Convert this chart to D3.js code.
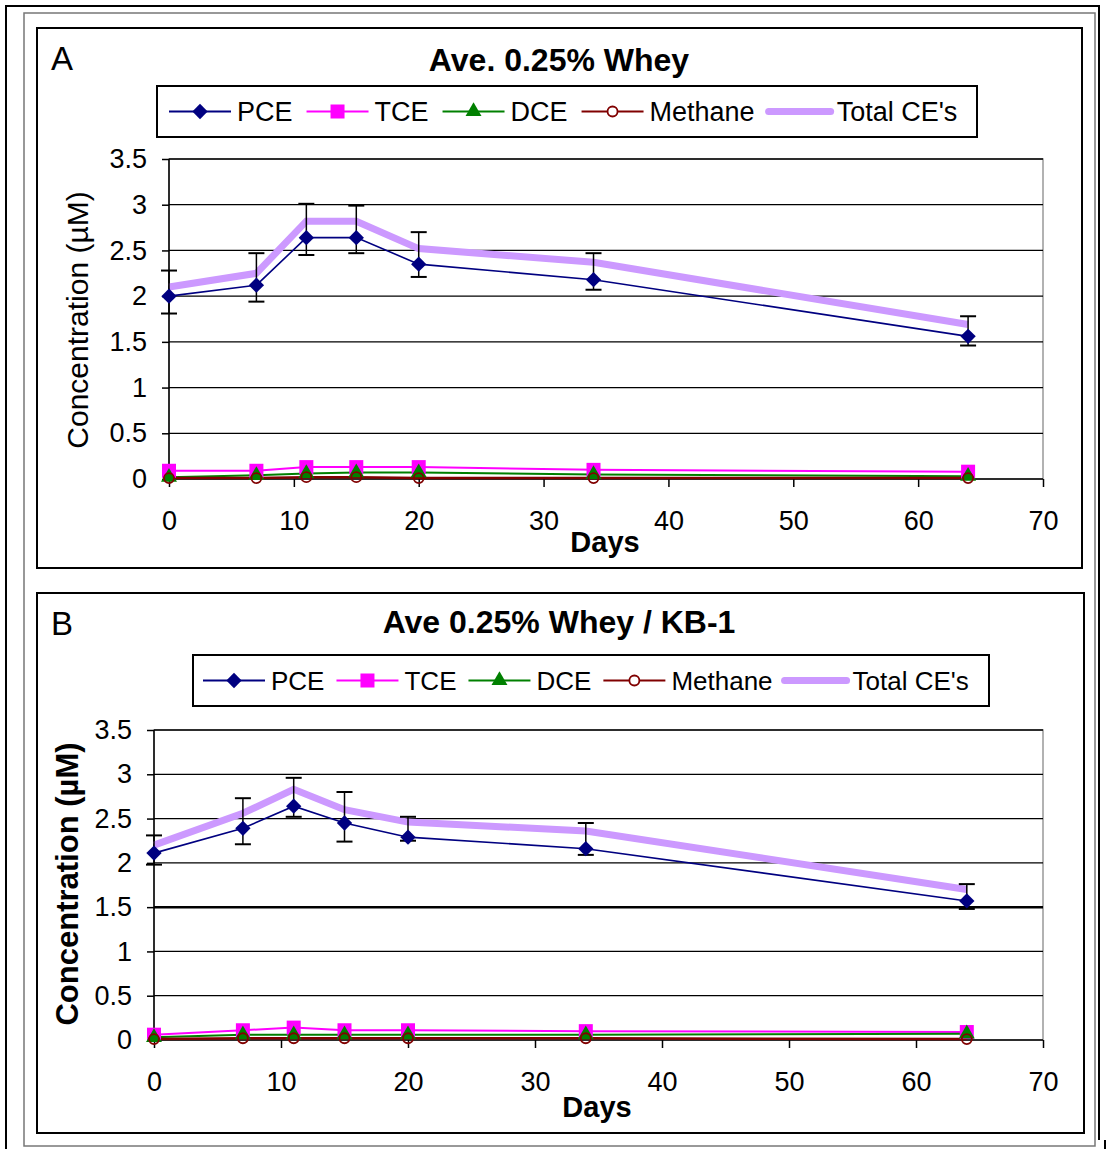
<!DOCTYPE html>
<html><head><meta charset="utf-8">
<script src="https://cdn.jsdelivr.net/npm/d3@7"></script>
<style>body{margin:0;background:#fff}svg{display:block;font-family:"Liberation Sans",Arial,sans-serif}</style>
</head><body>
<svg id="c" width="1106" height="1149"></svg>
<script>
const days = [0, 7, 11, 15, 20, 34, 64];
const xTicks = [0, 10, 20, 30, 40, 50, 60, 70];
const yTicks = [0, 0.5, 1, 1.5, 2, 2.5, 3, 3.5];
const yTickLabels = ["0", "0.5", "1", "1.5", "2", "2.5", "3", "3.5"];
const seriesNames = ["PCE", "TCE", "DCE", "Methane", "Total CE's"];

// Panel A
const titleA = "Ave. 0.25% Whey";
const pceA = [2.00, 2.12, 2.64, 2.64, 2.35, 2.18, 1.56];
const pceHiA = [2.28, 2.47, 3.01, 2.99, 2.70, 2.47, 1.78];
const pceLoA = [1.81, 1.94, 2.45, 2.47, 2.21, 2.07, 1.46];
const tceA = [0.09, 0.09, 0.13, 0.13, 0.13, 0.10, 0.08];
const dceA = [0.02, 0.04, 0.06, 0.07, 0.07, 0.05, 0.03];
const methA = [0.01, 0.01, 0.02, 0.02, 0.01, 0.01, 0.01];
const totalA = [2.10, 2.25, 2.82, 2.82, 2.52, 2.37, 1.69];

// Panel B
const titleB = "Ave 0.25% Whey / KB-1";
const pceB = [2.11, 2.39, 2.64, 2.45, 2.29, 2.16, 1.57];
const pceHiB = [2.31, 2.73, 2.96, 2.80, 2.52, 2.45, 1.76];
const pceLoB = [1.98, 2.21, 2.52, 2.24, 2.25, 2.09, 1.48];
const tceB = [0.06, 0.11, 0.14, 0.11, 0.11, 0.10, 0.09];
const dceB = [0.03, 0.06, 0.06, 0.06, 0.06, 0.06, 0.07];
const methB = [0.01, 0.02, 0.02, 0.02, 0.02, 0.02, 0.01];
const totalB = [2.20, 2.56, 2.83, 2.60, 2.46, 2.36, 1.70];

const colors = {PCE:"#000080", TCE:"#FF00FF", DCE:"#008000", Methane:"#800000", Total:"#CC99FF"};

const svg = d3.select("#c");

// outer frames
svg.append("path").attr("d","M6,1149 L6,6 L1099,6 L1099,1140").attr("fill","none").attr("stroke","#000").attr("stroke-width",2);
svg.append("rect").attr("x",24).attr("y",13).attr("width",1071).attr("height",1133).attr("fill","none").attr("stroke","#777").attr("stroke-width",1.5);
svg.append("line").attr("x1",1105).attr("x2",1105).attr("y1",1140).attr("y2",1149).attr("stroke","#000").attr("stroke-width",2);

function panel(cfg) {
  const g = svg.append("g");
  g.append("rect").attr("x",cfg.box[0]).attr("y",cfg.box[1]).attr("width",cfg.box[2]).attr("height",cfg.box[3])
    .attr("fill","#fff").attr("stroke","#000").attr("stroke-width",2);
  g.append("text").attr("x",cfg.box[0]+14).attr("y",cfg.box[1]+42).attr("font-size",33).text(cfg.letter);
  g.append("text").attr("x",559).attr("y",cfg.titleY).attr("text-anchor","middle").attr("font-size",32).attr("font-weight","bold").text(cfg.title);

  const x = d3.scaleLinear().domain([0,70]).range([cfg.x0, 1043]);
  const y = d3.scaleLinear().domain([0,3.5]).range([cfg.y0, cfg.yTop]);

  g.append("rect").attr("x",x(0)).attr("y",y(3.5)).attr("width",x(70)-x(0)).attr("height",y(0)-y(3.5))
    .attr("fill","none").attr("stroke","#999").attr("stroke-width",1.5);
  g.selectAll(".grid").data(yTicks.slice(1)).join("line")
    .attr("x1",x(0)).attr("x2",x(70)).attr("y1",d=>y(d)).attr("y2",d=>y(d))
    .attr("stroke","#000").attr("stroke-width",d=>(cfg.boldGrid===d)?2.5:1.3);

  const yAxis = d3.axisLeft(y).tickValues(yTicks).tickFormat((d,i)=>yTickLabels[i]).tickSize(7).tickPadding(15);
  const ya = g.append("g").attr("transform",`translate(${x(0)},0)`).call(yAxis);
  const xAxis = d3.axisBottom(x).tickValues(xTicks).tickSize(8).tickPadding(24);
  const xa = g.append("g").attr("transform",`translate(0,${y(0)})`).call(xAxis);
  [ya,xa].forEach(a=>{
    a.select(".domain").attr("stroke","#000").attr("stroke-width",1.5);
    a.selectAll(".tick line").attr("stroke","#000").attr("stroke-width",1.5);
    a.selectAll(".tick text").attr("font-size",27).attr("fill","#000").attr("font-family","Liberation Sans, Arial, sans-serif");
  });
  ya.select(".domain").attr("d",`M-0,${y(3.5)}V${y(0)}`);
  xa.select(".domain").attr("d",`M${x(0)},0H${x(70)}`);

  g.append("text").attr("x",cfg.daysX).attr("y",cfg.daysY).attr("text-anchor","middle").attr("font-size",29).attr("font-weight","bold").text("Days");
  g.append("text").attr("transform",`translate(${cfg.ylabX},${cfg.ylabY}) rotate(-90)`).attr("text-anchor","middle")
    .attr("font-size",cfg.ylabSize).attr("font-weight",cfg.ylabBold?"bold":"normal").text("Concentration (µM)");

  const line = d3.line().x((d,i)=>x(days[i])).y(d=>y(d));
  const pts = arr => arr.map((v,i)=>({x:x(days[i]), y:y(v)}));

  g.append("path").datum(cfg.tce).attr("d",line).attr("fill","none").attr("stroke",colors.TCE).attr("stroke-width",2);
  g.append("path").datum(cfg.dce).attr("d",line).attr("fill","none").attr("stroke",colors.DCE).attr("stroke-width",2);
  g.append("path").datum(cfg.meth).attr("d",line).attr("fill","none").attr("stroke",colors.Methane).attr("stroke-width",2.5);
  g.selectAll(".tce").data(pts(cfg.tce)).join("rect").attr("x",d=>d.x-7).attr("y",d=>d.y-7).attr("width",14).attr("height",14).attr("fill",colors.TCE);
  g.selectAll(".dce").data(pts(cfg.dce)).join("path").attr("transform",d=>`translate(${d.x},${d.y})`)
    .attr("d",d3.symbol(d3.symbolTriangle,110)).attr("fill",colors.DCE);
  g.selectAll(".meth").data(pts(cfg.meth)).join("circle").attr("cx",d=>d.x).attr("cy",d=>d.y).attr("r",5)
    .attr("fill","none").attr("stroke",colors.Methane).attr("stroke-width",1.8);

  g.append("path").datum(cfg.total).attr("d",line).attr("fill","none").attr("stroke",colors.Total).attr("stroke-width",7).attr("stroke-linejoin","miter");
  g.append("path").datum(cfg.pce).attr("d",line).attr("fill","none").attr("stroke",colors.PCE).attr("stroke-width",1.6);
  const eb = g.selectAll(".eb").data(days.map((d,i)=>({x:x(d), hi:y(cfg.hi[i]), lo:y(cfg.lo[i])}))).join("g");
  eb.append("line").attr("x1",d=>d.x).attr("x2",d=>d.x).attr("y1",d=>d.hi).attr("y2",d=>d.lo).attr("stroke","#000").attr("stroke-width",1.5);
  eb.append("line").attr("x1",d=>d.x-8).attr("x2",d=>d.x+8).attr("y1",d=>d.hi).attr("y2",d=>d.hi).attr("stroke","#000").attr("stroke-width",2);
  eb.append("line").attr("x1",d=>d.x-8).attr("x2",d=>d.x+8).attr("y1",d=>d.lo).attr("y2",d=>d.lo).attr("stroke","#000").attr("stroke-width",2);
  g.selectAll(".pce").data(pts(cfg.pce)).join("path").attr("transform",d=>`translate(${d.x},${d.y})`)
    .attr("d",d3.symbol(d3.symbolDiamond2 || d3.symbolSquare,150)).attr("fill",colors.PCE);

  const L = cfg.legend;
  g.append("rect").attr("x",L.x).attr("y",L.y).attr("width",L.w).attr("height",L.h).attr("fill","#fff").attr("stroke","#000").attr("stroke-width",2);
  const cy = L.y + L.h/2;
  let cx = L.x + L.pad;
  const keys = ["PCE","TCE","DCE","Methane","Total"];
  seriesNames.forEach((name,i)=>{
    const k = keys[i];
    const len = 62;
    g.append("line").attr("x1",cx).attr("x2",cx+len).attr("y1",cy).attr("y2",cy)
      .attr("stroke",colors[k]).attr("stroke-width",k==="Total"?7:2).attr("stroke-linecap",k==="Total"?"round":"butt");
    const m = cx+len/2;
    if(k==="PCE") g.append("path").attr("transform",`translate(${m},${cy})`).attr("d",d3.symbol(d3.symbolDiamond2||d3.symbolSquare,150)).attr("fill",colors.PCE);
    if(k==="TCE") g.append("rect").attr("x",m-7).attr("y",cy-7).attr("width",14).attr("height",14).attr("fill",colors.TCE);
    if(k==="DCE") g.append("path").attr("transform",`translate(${m},${cy})`).attr("d",d3.symbol(d3.symbolTriangle,110)).attr("fill",colors.DCE);
    if(k==="Methane") g.append("circle").attr("cx",m).attr("cy",cy).attr("r",5).attr("fill","#fff").attr("stroke",colors.Methane).attr("stroke-width",1.8);
    const t = g.append("text").attr("x",cx+len+6).attr("y",cy+9).attr("font-size",L.fs).text(name);
    cx = cx+len+6+t.node().getComputedTextLength()+L.gap;
  });
}

panel({box:[37,28,1045,540], letter:"A", title:titleA, titleY:71, x0:169, y0:479, yTop:159,
  pce:pceA, hi:pceHiA, lo:pceLoA, tce:tceA, dce:dceA, meth:methA, total:totalA,
  daysX:605, daysY:552, ylabX:88, ylabY:320, ylabSize:30, ylabBold:false,
  legend:{x:157,y:86,w:820,h:51,pad:12,gap:14,fs:27}});

panel({box:[37,593,1047,540], letter:"B", title:titleB, titleY:633, x0:154, y0:1040, yTop:730,
  pce:pceB, hi:pceHiB, lo:pceLoB, tce:tceB, dce:dceB, meth:methB, total:totalB,
  daysX:597, daysY:1117, ylabX:78, ylabY:884, ylabSize:31, ylabBold:true, boldGrid:1.5,
  legend:{x:193,y:655,w:796,h:51,pad:10,gap:12,fs:26}});
</script>
</body></html>
